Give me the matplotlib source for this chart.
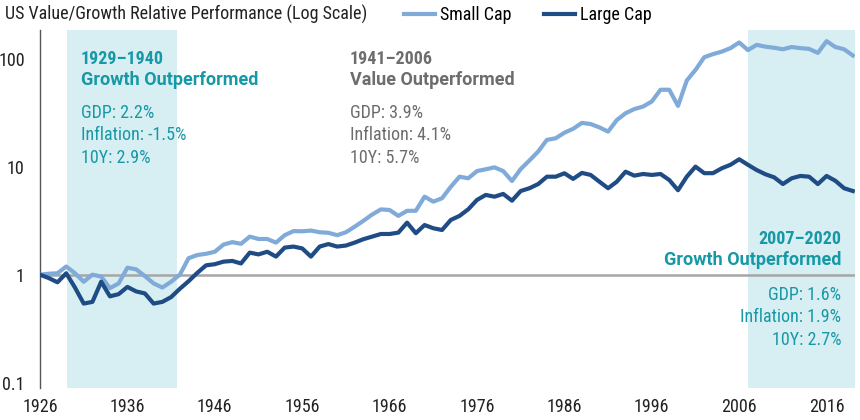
import matplotlib
matplotlib.use('Agg')
import matplotlib.pyplot as plt
import matplotlib.ticker as mticker
from matplotlib import font_manager

# condensed face if the machine has one, plain sans otherwise
installed = {f.name for f in font_manager.fontManager.ttflist}
prefs = ['Roboto Condensed', 'Archivo Narrow', 'Asap Condensed', 'Liberation Sans']
FONT = next((p for p in prefs if p in installed), 'DejaVu Sans')
WIDE = 'Roboto' if 'Roboto' in installed else FONT
plt.rcParams['font.family'] = [FONT, 'DejaVu Sans']

# ─── Data (annual, 1926-2019) ───
years = list(range(1926, 2020))

small_cap = [
    1.00, 1.02, 1.03, 1.19, 1.03, 0.86, 1.00, 0.96, 0.75, 0.83,   # 1926-35
    1.16, 1.12, 0.97, 0.83, 0.76, 0.86, 1.00, 1.42, 1.52, 1.56,   # 1936-45
    1.63, 1.90, 2.00, 1.93, 2.25, 2.14, 2.14, 1.98, 2.32, 2.53,   # 1946-55
    2.52, 2.56, 2.47, 2.44, 2.32, 2.47, 2.78, 3.15, 3.60, 4.02,   # 1956-65
    3.97, 3.50, 3.90, 3.90, 5.27, 4.74, 5.10, 6.50, 8.07, 7.80,   # 1966-75
    9.10, 9.45, 9.85, 9.10, 7.36, 9.50, 11.4, 13.8, 17.7, 18.3,   # 1976-85
    20.6, 22.4, 25.4, 24.8, 23.1, 21.1, 27.0, 31.2, 34.1, 36.0,   # 1986-95
    40.1, 51.5, 51.5, 36.5, 62.7, 78.6, 103, 110, 116, 125,       # 1996-2005
    141, 120, 134, 129, 126, 122, 128, 125, 123, 113,             # 2006-15
    145, 128, 122, 107,                                           # 2016-19
]

large_cap = [
    1.00, 0.93, 0.85, 1.03, 0.76, 0.54, 0.56, 0.86, 0.63, 0.66,   # 1926-35
    0.77, 0.70, 0.67, 0.54, 0.56, 0.62, 0.74, 0.87, 1.04, 1.22,   # 1936-45
    1.25, 1.32, 1.34, 1.27, 1.60, 1.54, 1.63, 1.47, 1.78, 1.82,   # 1946-55
    1.75, 1.47, 1.82, 1.92, 1.82, 1.86, 1.98, 2.13, 2.25, 2.38,   # 1956-65
    2.38, 2.45, 3.03, 2.42, 2.88, 2.69, 2.59, 3.21, 3.50, 4.03,   # 1966-75
    4.92, 5.47, 5.27, 5.59, 4.84, 5.95, 6.31, 6.90, 8.07, 8.07,   # 1976-85
    8.68, 7.70, 8.75, 8.38, 7.26, 6.31, 7.26, 8.98, 8.25, 8.55,   # 1986-95
    8.38, 8.55, 7.52, 6.05, 8.07, 10.0, 8.70, 8.70, 9.65, 10.4,   # 1996-2005
    11.7, 10.4, 9.30, 8.50, 7.96, 6.90, 7.80, 8.20, 8.07, 6.90,   # 2006-15
    8.20, 7.40, 6.31, 5.95,                                       # 2016-19
]

x_ticks = [1926, 1936, 1946, 1956, 1966, 1976, 1986, 1996, 2006, 2016]
y_ticks = [0.1, 1, 10, 100]
y_tick_labels = ['0.1', '1', '10', '100']

shade_periods = [(1929.1, 1941.7), (2007.0, 2019.25)]

# ─── Colors ───
SMALL = '#80aad8'
LARGE = '#1f4c84'
SHADE = '#d7eff2'
TEAL = '#1798a6'
GRAY = '#6d6d6d'
INK = '#222222'
FS = 13

W, H = 860, 420
fig = plt.figure(figsize=(W / 100, H / 100), dpi=100)
ax = fig.add_axes([40 / W, 32 / H, 815 / W, 358 / H])

for a, b in shade_periods:
    ax.axvspan(a, b, color=SHADE, lw=0, zorder=0)

ax.axhline(1, color='#a6a6a6', lw=1.8, zorder=1)

ax.plot(years, small_cap, color=SMALL, lw=3.0, label='Small Cap', zorder=3)
ax.plot(years, large_cap, color=LARGE, lw=3.0, label='Large Cap', zorder=4)

ax.set_yscale('log')
ax.set_ylim(0.0893, 184)
ax.set_xlim(1926, 2019.25)
ax.set_xticks(x_ticks)
ax.set_xticklabels([str(y) for y in x_ticks])
ax.yaxis.set_major_locator(mticker.FixedLocator(y_ticks))
ax.yaxis.set_minor_locator(mticker.NullLocator())
ax.set_yticklabels(y_tick_labels)
ax.tick_params(axis='both', length=0, labelsize=FS, colors=INK)
ax.tick_params(axis='y', pad=11)
ax.tick_params(axis='x', pad=7)

for side in ('top', 'right', 'bottom'):
    ax.spines[side].set_visible(False)
ax.spines['left'].set_color('#555555')
ax.spines['left'].set_linewidth(1.0)

# ─── Title & legend ───
fig.text(5 / W, 1 - 20 / H, 'US Value/Growth Relative Performance (Log Scale)',
         fontsize=FS, color=INK, va='baseline', ha='left')

ax.legend(loc='lower left', bbox_to_anchor=(404 / W, 1 - 24 / H),
          bbox_transform=fig.transFigure, ncol=2, frameon=False,
          fontsize=FS, handlelength=1.7, handletextpad=0.3,
          columnspacing=1.8, borderpad=0, borderaxespad=0)

# ─── Period annotations (pixel positions -> figure fraction) ───
def ptext(x, y, s, color, bold=False, ha='left', family=None):
    fig.text(x / W, 1 - y / H, s, fontsize=FS, color=color, ha=ha,
             va='baseline', fontweight='bold' if bold else 'normal',
             family=family or [FONT, 'DejaVu Sans'])

ptext(81, 64, '1929–1940', TEAL, True)
ptext(81, 85, 'Growth Outperformed', TEAL, True, family=WIDE)
ptext(81, 118, 'GDP: 2.2%', TEAL)
ptext(81, 140, 'Inflation: -1.5%', TEAL)
ptext(81, 163, '10Y: 2.9%', TEAL)

ptext(350, 64, '1941–2006', GRAY, True)
ptext(350, 85, 'Value Outperformed', GRAY, True, family=WIDE)
ptext(350, 118, 'GDP: 3.9%', GRAY)
ptext(350, 140, 'Inflation: 4.1%', GRAY)
ptext(350, 163, '10Y: 5.7%', GRAY)

ptext(841, 244, '2007–2020', TEAL, True, 'right')
ptext(841, 265, 'Growth Outperformed', TEAL, True, 'right', family=WIDE)
ptext(841, 300, 'GDP: 1.6%', TEAL, ha='right')
ptext(841, 322, 'Inflation: 1.9%', TEAL, ha='right')
ptext(841, 345, '10Y: 2.7%', TEAL, ha='right')

plt.savefig('out.png', dpi=100, facecolor='white')
plt.close()
